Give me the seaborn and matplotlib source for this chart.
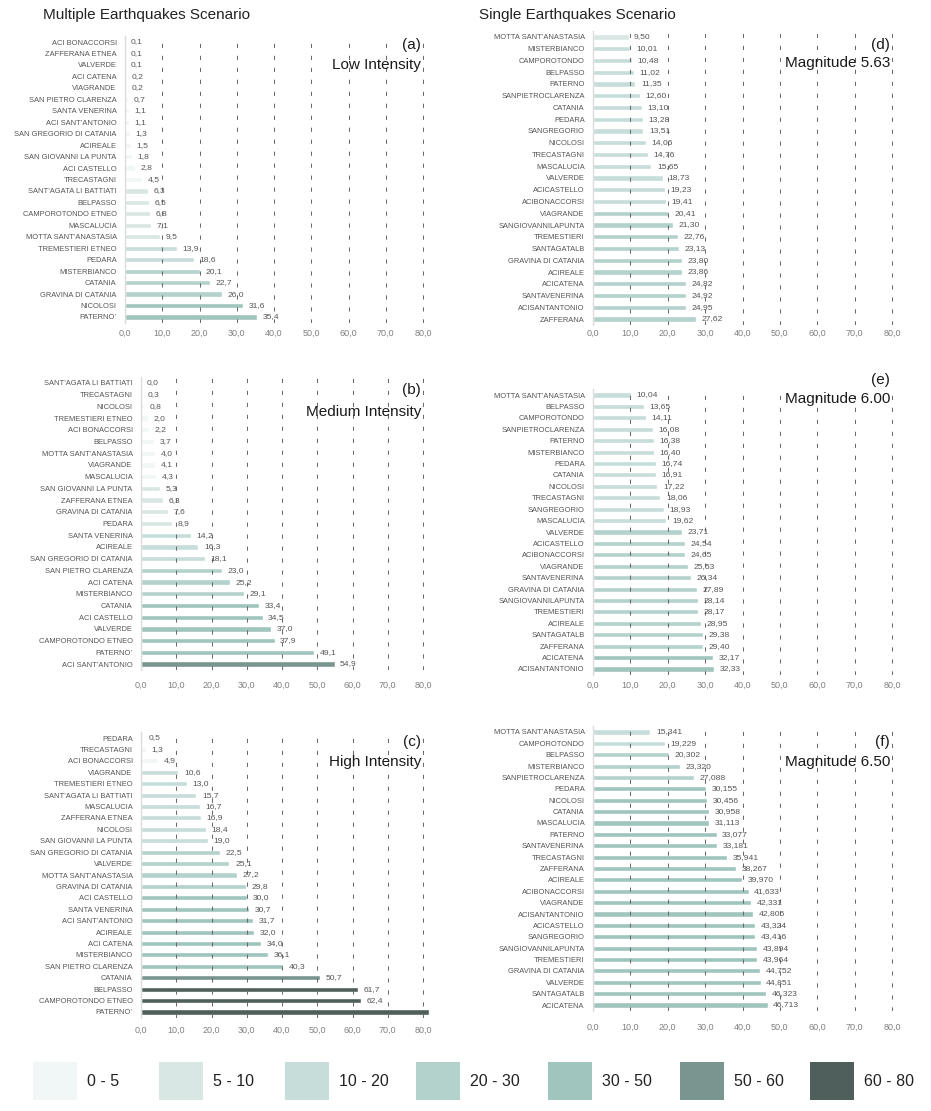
import numpy as np
import pandas as pd
import matplotlib
matplotlib.use("Agg")
import matplotlib.pyplot as plt
from matplotlib.patches import Rectangle
import seaborn as sns

# ---------------- data ----------------
low_towns = ["ACI BONACCORSI", "ZAFFERANA ETNEA", "VALVERDE", "ACI CATENA", "VIAGRANDE",
             "SAN PIETRO CLARENZA", "SANTA VENERINA", "ACI SANT’ANTONIO", "SAN GREGORIO DI CATANIA",
             "ACIREALE", "SAN GIOVANNI LA PUNTA", "ACI CASTELLO", "TRECASTAGNI",
             "SANT’AGATA LI BATTIATI", "BELPASSO", "CAMPOROTONDO ETNEO", "MASCALUCIA",
             "MOTTA SANT’ANASTASIA", "TREMESTIERI ETNEO", "PEDARA", "MISTERBIANCO", "CATANIA",
             "GRAVINA DI CATANIA", "NICOLOSI", "PATERNO’"]
low_values = [0.1, 0.1, 0.1, 0.2, 0.2, 0.7, 1.1, 1.1, 1.3, 1.5, 1.8, 2.8, 4.5, 6.3, 6.5, 6.8,
              7.1, 9.5, 13.9, 18.6, 20.1, 22.7, 26.0, 31.6, 35.4]

medium_towns = ["SANT’AGATA LI BATTIATI", "TRECASTAGNI", "NICOLOSI", "TREMESTIERI ETNEO",
                "ACI BONACCORSI", "BELPASSO", "MOTTA SANT’ANASTASIA", "VIAGRANDE", "MASCALUCIA",
                "SAN GIOVANNI LA PUNTA", "ZAFFERANA ETNEA", "GRAVINA DI CATANIA", "PEDARA",
                "SANTA VENERINA", "ACIREALE", "SAN GREGORIO DI CATANIA", "SAN PIETRO CLARENZA",
                "ACI CATENA", "MISTERBIANCO", "CATANIA", "ACI CASTELLO", "VALVERDE",
                "CAMPOROTONDO ETNEO", "PATERNO’", "ACI SANT’ANTONIO"]
medium_values = [0.0, 0.3, 0.8, 2.0, 2.2, 3.7, 4.0, 4.1, 4.3, 5.3, 6.3, 7.6, 8.9, 14.2, 16.3,
                 18.1, 23.0, 25.2, 29.1, 33.4, 34.5, 37.0, 37.9, 49.1, 54.9]

high_towns = ["PEDARA", "TRECASTAGNI", "ACI BONACCORSI", "VIAGRANDE", "TREMESTIERI ETNEO",
              "SANT’AGATA LI BATTIATI", "MASCALUCIA", "ZAFFERANA ETNEA", "NICOLOSI",
              "SAN GIOVANNI LA PUNTA", "SAN GREGORIO DI CATANIA", "VALVERDE",
              "MOTTA SANT’ANASTASIA", "GRAVINA DI CATANIA", "ACI CASTELLO", "SANTA VENERINA",
              "ACI SANT’ANTONIO", "ACIREALE", "ACI CATENA", "MISTERBIANCO", "SAN PIETRO CLARENZA",
              "CATANIA", "BELPASSO", "CAMPOROTONDO ETNEO", "PATERNO’"]
high_values = [0.5, 1.3, 4.9, 10.6, 13.0, 15.7, 16.7, 16.9, 18.4, 19.0, 22.5, 25.1, 27.2, 29.8,
               30.0, 30.7, 31.7, 32.0, 34.0, 36.1, 40.3, 50.7, 61.7, 62.4, 81.7]

m563_towns = ["MOTTA SANT’ANASTASIA", "MISTERBIANCO", "CAMPOROTONDO", "BELPASSO", "PATERNO",
              "SANPIETROCLARENZA", "CATANIA", "PEDARA", "SANGREGORIO", "NICOLOSI", "TRECASTAGNI",
              "MASCALUCIA", "VALVERDE", "ACICASTELLO", "ACIBONACCORSI", "VIAGRANDE",
              "SANGIOVANNILAPUNTA", "TREMESTIERI", "SANTAGATALB", "GRAVINA DI CATANIA",
              "ACIREALE", "ACICATENA", "SANTAVENERINA", "ACISANTANTONIO", "ZAFFERANA"]
m563_values = [9.50, 10.01, 10.48, 11.02, 11.35, 12.60, 13.10, 13.28, 13.51, 14.06, 14.76, 15.65,
               18.73, 19.23, 19.41, 20.41, 21.30, 22.76, 23.13, 23.80, 23.86, 24.82, 24.92,
               24.95, 27.62]

m600_towns = ["MOTTA SANT’ANASTASIA", "BELPASSO", "CAMPOROTONDO", "SANPIETROCLARENZA", "PATERNO",
              "MISTERBIANCO", "PEDARA", "CATANIA", "NICOLOSI", "TRECASTAGNI", "SANGREGORIO",
              "MASCALUCIA", "VALVERDE", "ACICASTELLO", "ACIBONACCORSI", "VIAGRANDE",
              "SANTAVENERINA", "GRAVINA DI CATANIA", "SANGIOVANNILAPUNTA", "TREMESTIERI",
              "ACIREALE", "SANTAGATALB", "ZAFFERANA", "ACICATENA", "ACISANTANTONIO"]
m600_values = [10.04, 13.65, 14.11, 16.08, 16.38, 16.40, 16.74, 16.91, 17.22, 18.06, 18.93, 19.62,
               23.71, 24.54, 24.65, 25.53, 26.34, 27.89, 28.14, 28.17, 28.95, 29.38, 29.40,
               32.17, 32.33]

m650_towns = ["MOTTA SANT’ANASTASIA", "CAMPOROTONDO", "BELPASSO", "MISTERBIANCO",
              "SANPIETROCLARENZA", "PEDARA", "NICOLOSI", "CATANIA", "MASCALUCIA", "PATERNO",
              "SANTAVENERINA", "TRECASTAGNI", "ZAFFERANA", "ACIREALE", "ACIBONACCORSI",
              "VIAGRANDE", "ACISANTANTONIO", "ACICASTELLO", "SANGREGORIO", "SANGIOVANNILAPUNTA",
              "TREMESTIERI", "GRAVINA DI CATANIA", "VALVERDE", "SANTAGATALB", "ACICATENA"]
m650_values = [15.341, 19.229, 20.302, 23.320, 27.088, 30.155, 30.456, 30.958, 31.113, 33.077,
               33.181, 35.941, 38.267, 39.970, 41.633, 42.331, 42.805, 43.324, 43.416, 43.894,
               43.964, 44.752, 44.851, 46.323, 46.713]

band_edges = [0, 5, 10, 20, 30, 50, 60, 80]
band_labels = ["0 - 5", "5 - 10", "10 - 20", "20 - 30", "30 - 50", "50 - 60", "60 - 80"]
band_colors = ["#f0f7f6", "#d9e7e4", "#c6ddd9", "#b3d2cc", "#9fc5be", "#79958f", "#4f605c"]
x_ticks = [0, 10, 20, 30, 40, 50, 60, 70, 80]

# ---------------- style ----------------
sns.set_theme(style="white")
plt.rcParams["font.family"] = ["Liberation Sans", "DejaVu Sans"]

W, H = 931, 1111
fig = plt.figure(figsize=(W / 100, H / 100), dpi=100)
fig.patch.set_facecolor("white")
palette = dict(zip(band_labels, band_colors))


def px_axes(left, top, right, bottom):
    return fig.add_axes([left / W, 1 - bottom / H, (right - left) / W, (bottom - top) / H])


def band_of(v):
    return band_labels[int(np.searchsorted(band_edges[1:-1], v, side="right"))]


def comma(v, decimals):
    return f"{v:.{decimals}f}".replace(".", ",")


def draw_panel(ax, towns, values, decimals, x_max, tick_pad):
    df = pd.DataFrame({"town": towns, "value": values})
    df["band"] = [band_of(v) for v in values]
    sns.barplot(data=df, x="value", y="town", hue="band", hue_order=band_labels,
                palette=palette, order=towns, orient="h", dodge=False, width=0.45,
                saturation=1, errorbar=None, legend=False, ax=ax, zorder=2)
    ax.set_xlim(0, x_max)
    ax.set_ylim(len(towns) - 0.5, -0.5)
    ax.set_xlabel("")
    ax.set_ylabel("")
    ax.set_xticks(x_ticks, [comma(t, 1) for t in x_ticks])
    for t in x_ticks[1:]:
        ax.axvline(t, color="#6a6a6a", lw=0.75, ls=(0, (4, 7.5)), zorder=3)
    # value labels for bars within the 0-80 scale
    for i, v in enumerate(values):
        if v <= x_ticks[-1]:
            ax.annotate(comma(v, decimals), xy=(v, i), xytext=(4, 0),
                        textcoords="offset points", va="center", ha="left",
                        fontsize=6.1, color="#555555", zorder=4)
    for side in ("top", "right", "bottom"):
        ax.spines[side].set_visible(False)
    ax.spines["left"].set_color("#dcdcdc")
    ax.spines["left"].set_linewidth(1.0)
    ax.tick_params(axis="x", length=0, pad=tick_pad, labelsize=6.5, labelcolor="#808080")
    ax.tick_params(axis="y", length=0, pad=6, labelsize=5.4, labelcolor="#555555")
    ax.set_facecolor("white")


panels = [
    # towns, values, decimals, x0, px per unit, top, bottom, tick pad
    (low_towns, low_values, 1, 125, 3.725, 36.3, 322.7, 4.5),
    (medium_towns, medium_values, 1, 141, 3.525, 377.1, 669.9, 8),
    (high_towns, high_values, 1, 141, 3.525, 732.3, 1017.7, 6),
    (m563_towns, m563_values, 2, 593, 3.7375, 31.1, 324.9, 3),
    (m600_towns, m600_values, 2, 593, 3.7375, 389.3, 674.7, 4.5),
    (m650_towns, m650_values, 3, 593, 3.7375, 726.3, 1010.7, 9),
]
x_max = 82
for towns, values, dec, x0, s, top, bottom, pad in panels:
    ax = px_axes(x0, top, x0 + x_max * s, bottom)
    draw_panel(ax, towns, values, dec, x_max, pad)


def ftext(x, y, s, **kw):
    fig.text(x / W, 1 - y / H, s, **kw)


ftext(43, 15, "Multiple Earthquakes Scenario", ha="left", va="center", fontsize=11, color="#222222")
ftext(479, 15, "Single Earthquakes Scenario", ha="left", va="center", fontsize=11, color="#222222")

panel_tags = [
    (421, 45, 65, "(a)", "Low Intensity"),
    (421, 390, 412, "(b)", "Medium Intensity"),
    (421, 742, 762, "(c)", "High Intensity"),
    (890, 45, 63, "(d)", "Magnitude 5.63"),
    (890, 380, 399, "(e)", "Magnitude 6.00"),
    (890, 742, 762, "(f)", "Magnitude 6.50"),
]
for xr, y1, y2, tag, name in panel_tags:
    ftext(xr, y1, tag, ha="right", va="center", fontsize=11, color="#1a1a1a")
    ftext(xr, y2, name, ha="right", va="center", fontsize=11, color="#1a1a1a")

# colour band key along the bottom
key_x = [33, 159, 285, 416, 548, 680, 810]
key_w, key_top, key_h = 44, 1062, 38
for x, lab, col in zip(key_x, band_labels, band_colors):
    fig.add_artist(Rectangle((x / W, 1 - (key_top + key_h) / H), key_w / W, key_h / H,
                             transform=fig.transFigure, facecolor=col, edgecolor="none"))
    ftext(x + key_w + 10, key_top + key_h / 2 + 1, lab, ha="left", va="center",
          fontsize=11.5, color="#222222")

fig.savefig("out.png", dpi=100)
